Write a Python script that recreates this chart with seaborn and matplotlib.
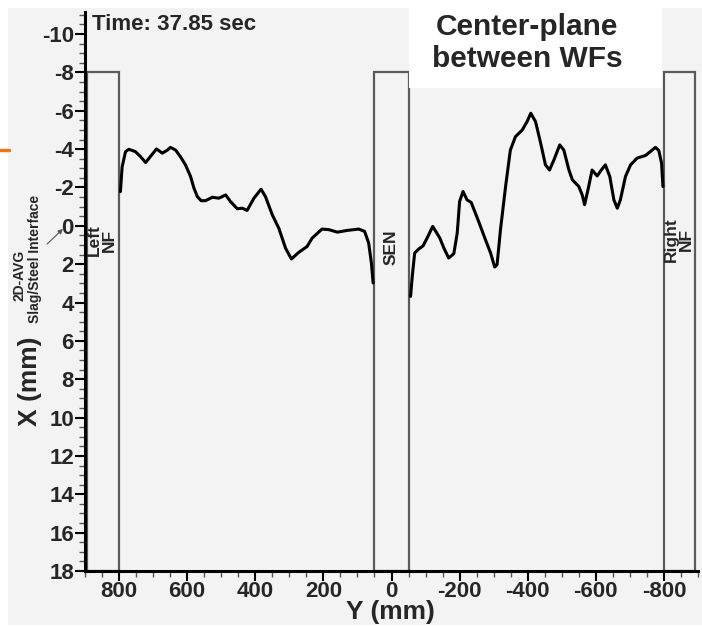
import numpy as np
import pandas as pd
import matplotlib
matplotlib.use("Agg")
import matplotlib.pyplot as plt
from matplotlib.patches import Rectangle
from matplotlib.lines import Line2D
import seaborn as sns

# ---------------- data ----------------
left_y_mm = [796, 791, 781, 771, 752, 737, 722, 708, 690, 673, 658, 649, 634, 620, 605,
             590, 580, 570, 559, 546, 526, 507, 487, 473, 453, 438, 424, 404, 383, 370,
             350, 331, 311, 294, 272, 248, 233, 204, 184, 159, 130, 96, 79, 67, 59, 54]
left_x_mm = [-1.78, -3.07, -3.87, -3.99, -3.87, -3.61, -3.30, -3.61, -4.01, -3.79, -3.95,
             -4.09, -3.95, -3.61, -3.18, -2.57, -1.96, -1.52, -1.31, -1.31, -1.49, -1.44,
             -1.61, -1.27, -0.89, -0.92, -0.80, -1.44, -1.91, -1.52, -0.57, 0.12, 1.17,
             1.73, 1.38, 1.08, 0.64, 0.17, 0.20, 0.33, 0.24, 0.17, 0.29, 0.90, 1.94, 2.98]

right_y_mm = [-56, -61, -68, -80, -93, -107, -121, -142, -154, -168, -183, -193, -200, -210,
              -222, -234, -256, -276, -291, -303, -310, -320, -335, -349, -364, -384, -398,
              -409, -423, -438, -452, -464, -477, -494, -506, -521, -531, -550, -560, -567,
              -579, -589, -604, -616, -628, -641, -653, -663, -672, -687, -702, -721, -746,
              -760, -775, -785, -793, -797]
right_x_mm = [3.68, 2.63, 1.42, 1.21, 1.04, 0.55, 0.03, 0.64, 1.17, 1.68, 1.45, 0.38, -1.27,
              -1.79, -1.35, -1.22, -0.22, 0.73, 1.42, 2.15, 2.03, 0.20, -2.05, -3.95, -4.65,
              -5.00, -5.43, -5.87, -5.43, -4.31, -3.18, -2.91, -3.44, -4.22, -3.95, -2.91,
              -2.40, -2.05, -1.61, -1.10, -2.05, -2.91, -2.60, -2.91, -3.18, -2.57, -1.35,
              -0.92, -1.35, -2.57, -3.18, -3.53, -3.67, -3.87, -4.09, -3.92, -3.27, -2.05]

# regions (walls / nozzle)
region_names = ["Left\nNF", "SEN", "Right\nNF"]
region_y0 = [895, 50, -800]
region_y1 = [800, -50, -890]
region_top = -8
region_bottom = 18

x_tick_vals = [800, 600, 400, 200, 0, -200, -400, -600, -800]
y_tick_vals = [-10, -8, -6, -4, -2, 0, 2, 4, 6, 8, 10, 12, 14, 16, 18]

title_time = "Time: 37.85 sec"
title_plane = "Center-plane\nbetween WFs"

# ---------------- style ----------------
sns.set_style("ticks")
plt.rcParams['font.family'] = ['Liberation Sans', 'DejaVu Sans']
plt.rcParams['axes.unicode_minus'] = False

BG = "#f3f3f3"
W, H = 702, 627
fig = plt.figure(figsize=(W / 100, H / 100), dpi=100, facecolor="white")

# gray slide background
fig.patches.append(Rectangle((8 / W, 2 / H), (W - 8) / W, (H - 10) / H,
                             transform=fig.transFigure, facecolor=BG,
                             edgecolor="none", zorder=-10))

ax = fig.add_axes([85 / W, 1 - 571 / H, (698 - 85) / W, (571 - 12) / H])
ax.set_facecolor(BG)
ax.patch.set_alpha(0)

df_left = pd.DataFrame({"y": left_y_mm, "x": left_x_mm})
df_right = pd.DataFrame({"y": right_y_mm, "x": right_x_mm})
for d in (df_left, df_right):
    sns.lineplot(data=d, x="y", y="x", sort=False, estimator=None, ax=ax,
                 color="black", linewidth=2.2, zorder=3)

# region boxes
for name, a, b in zip(region_names, region_y0, region_y1):
    ax.add_patch(Rectangle((min(a, b), region_top), abs(a - b), region_bottom - region_top,
                           facecolor="none", edgecolor="#5a5a5a", linewidth=1.6,
                           zorder=2, clip_on=False))

ax.text((region_y0[0] + region_y1[0]) / 2 + 2, 0.75, region_names[0], rotation=90,
        ha="center", va="center", fontsize=12.5, fontweight="bold",
        multialignment="center", linespacing=1.0, zorder=4)
ax.text((region_y0[1] + region_y1[1]) / 2, 1.1, region_names[1], rotation=90,
        ha="center", va="center", fontsize=12.5, fontweight="bold", zorder=4)
ax.text((region_y0[2] + region_y1[2]) / 2 + 2, 0.7, region_names[2], rotation=90,
        ha="center", va="center", fontsize=12.5, fontweight="bold",
        multialignment="center", linespacing=1.0, zorder=4)

ax.set_xlim(900, -900)
ax.set_ylim(18, -11.15)

ax.set_xticks(x_tick_vals)
ax.set_xticklabels([str(v) for v in x_tick_vals])
ax.set_yticks(y_tick_vals)
ax.set_yticklabels([str(v) for v in y_tick_vals])
ax.set_xticks(np.arange(-900, 901, 50), minor=True)
ax.set_yticks(np.arange(-11, 18.01, 0.5), minor=True)

for lab in ax.get_xticklabels() + ax.get_yticklabels():
    lab.set_fontweight("bold")
    lab.set_fontsize(16)

ax.tick_params(axis="both", which="major", direction="out", length=7, width=1.5,
               color="black", pad=1)
ax.tick_params(axis="both", which="minor", direction="out", length=4, width=1.0,
               color="#555555")
ax.tick_params(axis="x", which="major", pad=0)

for s in ("top", "right"):
    ax.spines[s].set_visible(False)
for s in ("left", "bottom"):
    ax.spines[s].set_linewidth(2.2)
    ax.spines[s].set_color("black")

ax.set_xlabel("")
ax.set_ylabel("")

# axis titles
fig.text(390 / W, 1 - 612 / H, "Y (mm)", ha="center", va="center",
         fontsize=19, fontweight="bold")
fig.text(30 / W, 1 - 381 / H, "X (mm)", ha="center", va="center", rotation=90,
         fontsize=19, fontweight="bold")

# annotation of interface
fig.text(19 / W, 1 - 275 / H, "2D-AVG", ha="center", va="center", rotation=90,
         fontsize=10, fontweight="bold")
fig.text(35 / W, 1 - 259 / H, "Slag/Steel Interface", ha="center", va="center",
         rotation=90, fontsize=10, fontweight="bold")
fig.add_artist(matplotlib.patches.FancyArrowPatch(
    (45 / W, 1 - 246 / H), (65 / W, 1 - 227 / H), transform=fig.transFigure,
    arrowstyle="-|>", mutation_scale=7, color="#555555", linewidth=0.8))

# time label
fig.text(92 / W, 1 - 24 / H, title_time, ha="left", va="center",
         fontsize=16, fontweight="bold")

# white box with plane title
fig.patches.append(Rectangle((409 / W, 1 - 88 / H), (662 - 409) / W, 88 / H,
                             transform=fig.transFigure, facecolor="white",
                             edgecolor="none", zorder=5))
fig.text(527 / W, 1 - 43 / H, title_plane, ha="center", va="center",
         fontsize=21.5, fontweight="bold", linespacing=1.2, zorder=6)

# orange slide mark
fig.add_artist(Line2D([0, 9 / W], [1 - 150 / H, 1 - 150 / H], transform=fig.transFigure,
                      color="#e8761e", linewidth=2.5))

fig.savefig("out.png", dpi=100, facecolor="white")
